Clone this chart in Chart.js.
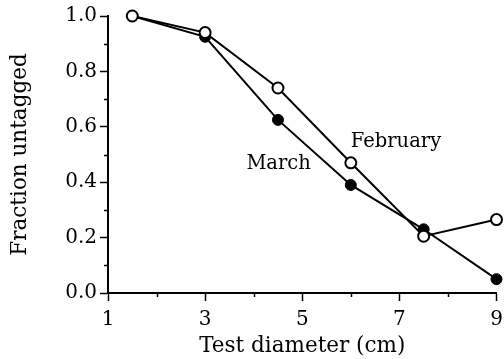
<!DOCTYPE html>
<html>
<head>
<meta charset="utf-8">
<script src="https://cdn.jsdelivr.net/npm/chart.js@4/dist/chart.umd.min.js"></script>
<style>
  html, body { margin: 0; padding: 0; background: #fff; }
  #c { display: block; }
</style>
</head>
<body>
<canvas id="c" width="504" height="359"></canvas>
<script>
const diameters = [1.5, 3, 4.5, 6, 7.5, 9];
const february = [1.0, 0.94, 0.74, 0.47, 0.205, 0.265];
const march = [1.0, 0.925, 0.625, 0.39, 0.23, 0.05];
const xTicks = [1, 3, 5, 7, 9];
const xMinorTicks = [2, 4, 6, 8];
const yTicks = [0, 0.2, 0.4, 0.6, 0.8, 1.0];
const yMinorTicks = [0.1, 0.3, 0.5, 0.7, 0.9];
const labels = [
  { text: 'February', x: 6.0, y: 0.545 },
  { text: 'March', x: 3.85, y: 0.466 }
];

const FONT = '"DejaVu Serif", serif';
const toPoints = (xs, ys) => xs.map((x, i) => ({ x: x, y: ys[i] }));

// short minor ticks + the text labels inside the plot
const extras = {
  id: 'extras',
  afterDraw(chart) {
    const ctx = chart.ctx;
    const xs = chart.scales.x, ys = chart.scales.y;
    ctx.save();
    ctx.strokeStyle = '#000';
    ctx.lineWidth = 1.5;
    ctx.beginPath();
    xMinorTicks.forEach(v => {
      const px = Math.round(xs.getPixelForValue(v)) + 0.5;
      ctx.moveTo(px, ys.bottom);
      ctx.lineTo(px, ys.bottom + 4);
    });
    yMinorTicks.forEach(v => {
      const py = Math.round(ys.getPixelForValue(v)) + 0.5;
      ctx.moveTo(xs.left, py);
      ctx.lineTo(xs.left - 4, py);
    });
    ctx.stroke();
    ctx.fillStyle = '#000';
    ctx.font = '19.5px ' + FONT;
    ctx.textBaseline = 'middle';
    ctx.textAlign = 'left';
    labels.forEach(l => {
      ctx.fillText(l.text, xs.getPixelForValue(l.x), ys.getPixelForValue(l.y));
    });
    ctx.restore();
  }
};

new Chart(document.getElementById('c'), {
  type: 'scatter',
  data: {
    datasets: [
      {
        label: 'February',
        data: toPoints(diameters, february),
        showLine: true,
        borderColor: '#000',
        borderWidth: 2,
        pointRadius: 5.5,
        pointHoverRadius: 5.5,
        pointBackgroundColor: '#fff',
        pointBorderColor: '#000',
        pointBorderWidth: 2,
        clip: false,
        order: 0
      },
      {
        label: 'March',
        data: toPoints(diameters, march),
        showLine: true,
        borderColor: '#000',
        borderWidth: 2,
        pointRadius: 5.5,
        pointHoverRadius: 5.5,
        pointBackgroundColor: '#000',
        pointBorderColor: '#000',
        pointBorderWidth: 1,
        clip: false,
        order: 1
      }
    ]
  },
  options: {
    responsive: false,
    animation: false,
    events: [],
    layout: { padding: { top: 16, right: 0, left: 0, bottom: 0 } },
    plugins: { legend: { display: false }, tooltip: { enabled: false } },
    scales: {
      x: {
        type: 'linear',
        min: 1,
        max: 9,
        afterBuildTicks: s => { s.ticks = xTicks.map(v => ({ value: v })); },
        afterFit: s => { s.height = 66; s.paddingLeft = 0; s.paddingRight = 6; },
        grid: { drawOnChartArea: false, drawTicks: true, tickLength: 8, tickColor: '#000', tickWidth: 1.5 },
        border: { display: true, color: '#000', width: 2 },
        ticks: { color: '#000', font: { family: FONT, size: 20 }, padding: 7, maxRotation: 0 },
        title: { display: true, text: 'Test diameter (cm)', color: '#000', font: { family: FONT, size: 21.5 }, padding: { top: 0, bottom: 0 } }
      },
      y: {
        type: 'linear',
        min: 0,
        max: 1,
        afterBuildTicks: s => { s.ticks = yTicks.map(v => ({ value: v })); },
        afterFit: s => { s.width = 108; },
        grid: { drawOnChartArea: false, drawTicks: true, tickLength: 8, tickColor: '#000', tickWidth: 1.5 },
        border: { display: true, color: '#000', width: 2 },
        ticks: { color: '#000', font: { family: FONT, size: 20 }, padding: 3, callback: v => v.toFixed(1) },
        title: { display: true, text: 'Fraction untagged', color: '#000', font: { family: FONT, size: 21.5 }, padding: { top: 8, bottom: 0 } }
      }
    }
  },
  plugins: [extras]
});
</script>
</body>
</html>
